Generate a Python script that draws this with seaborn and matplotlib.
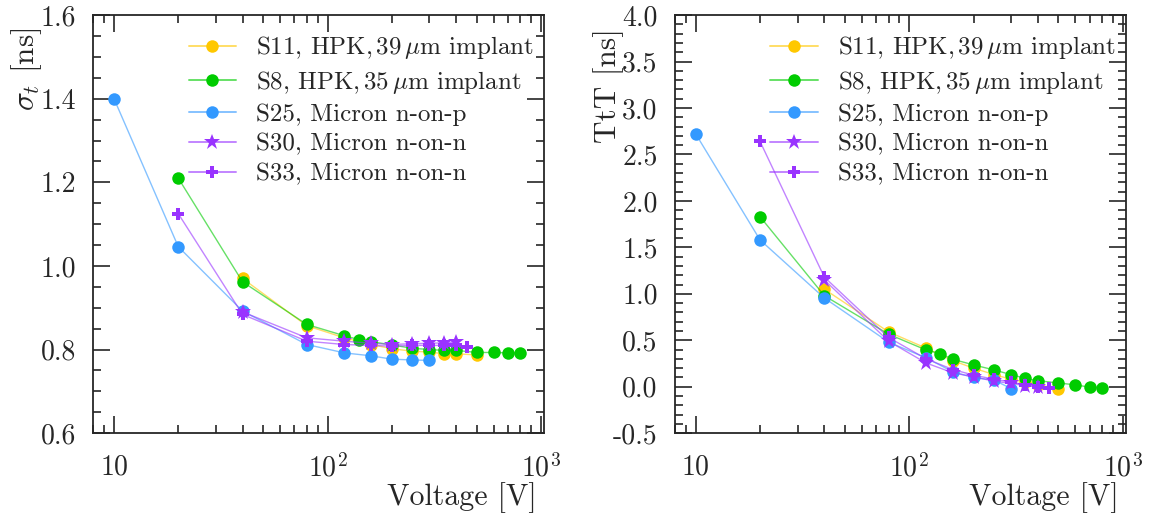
import numpy as np
import pandas as pd
import matplotlib
matplotlib.use("Agg")
import matplotlib.pyplot as plt
import matplotlib.ticker as mticker
import seaborn as sns

# sample names, colours and markers
samples = [r"S11, HPK,$\,39\,\mu$m implant", r"S8, HPK,$\,35\,\mu$m implant", "S25, Micron n-on-p",
           "S30, Micron n-on-n", "S33, Micron n-on-n"]
colors = ["#FFC800", "#00CC00", "#3399FF", "#9933FF", "#9933FF"]
markers = ["o", "o", "o", "*", "P"]

# bias voltages [V]
v_s11 = [40, 80, 120, 160, 200, 250, 300, 350, 400, 500]
v_s8 = [20, 40, 80, 120, 140, 160, 200, 250, 300, 350, 400, 500, 600, 700, 800]
v_s25 = [10, 20, 40, 80, 120, 160, 200, 250, 300]
v_s30 = [40, 80, 120, 160, 200, 250, 300, 350, 400]
v_s33 = [20, 40, 80, 120, 160, 200, 250, 300, 350, 400, 450]

# time resolution sigma_t [ns]
sig_s11 = [0.970, 0.857, 0.828, 0.812, 0.802, 0.796, 0.794, 0.790, 0.790, 0.787]
sig_s8 = [1.210, 0.962, 0.860, 0.833, 0.824, 0.819, 0.811, 0.803, 0.800, 0.798, 0.798, 0.793, 0.793, 0.792, 0.792]
sig_s25 = [1.400, 1.046, 0.892, 0.812, 0.792, 0.785, 0.777, 0.775, 0.774]
sig_s30 = [0.890, 0.828, 0.820, 0.815, 0.812, 0.814, 0.815, 0.816, 0.818]
sig_s33 = [1.125, 0.884, 0.820, 0.812, 0.810, 0.808, 0.810, 0.810, 0.810, 0.810, 0.807]

# time to threshold TtT [ns]
ttt_s11 = [1.05, 0.59, 0.415, 0.28, 0.20, 0.13, 0.08, 0.05, 0.02, -0.02]
ttt_s8 = [1.83, 0.98, 0.565, 0.395, 0.355, 0.295, 0.235, 0.18, 0.13, 0.09, 0.065, 0.04, 0.02, -0.005, -0.01]
ttt_s25 = [2.72, 1.58, 0.955, 0.48, 0.31, 0.16, 0.10, 0.07, -0.02]
ttt_s30 = [1.15, 0.49, 0.255, 0.15, 0.105, 0.06, 0.035, 0.01, 0.0]
ttt_s33 = [2.64, 1.18, 0.53, 0.30, 0.185, 0.125, 0.08, 0.05, 0.02, 0.0, -0.01]

voltages = [v_s11, v_s8, v_s25, v_s30, v_s33]
sigmas = [sig_s11, sig_s8, sig_s25, sig_s30, sig_s33]
ttts = [ttt_s11, ttt_s8, ttt_s25, ttt_s30, ttt_s33]

sns.set_style("ticks")
plt.rcParams['font.family'] = ['cmr10', 'DejaVu Serif']
plt.rcParams['mathtext.fontset'] = 'cm'
plt.rcParams['axes.unicode_minus'] = False
plt.rcParams['axes.formatter.use_mathtext'] = True

fig = plt.figure(figsize=(11.52, 5.2), dpi=100)
ax1 = fig.add_axes([0.081, 0.167, 0.391, 0.804])
ax2 = fig.add_axes([0.586, 0.167, 0.391, 0.804])


def xfmt(val, pos):
    if abs(val - 10) < 1e-6:
        return "10"
    return r"$10^{%d}$" % int(round(np.log10(val)))


def draw_panel(ax, yvals, ylabel, ylim, major, minor):
    for name, v, y, c, m in zip(samples, voltages, yvals, colors, markers):
        df = pd.DataFrame({'voltage': v, 'value': y})
        ms = 12 if m == "*" else 9
        sns.lineplot(data=df, x='voltage', y='value', ax=ax, color=c, marker=m,
                     markersize=ms, markeredgewidth=0, linewidth=1.0,
                     estimator=None, sort=False, label=name)
        line = ax.lines[-1]
        r, g, b, _ = matplotlib.colors.to_rgba(c)
        line.set_color((r, g, b, 0.6))
        line.set_markerfacecolor(c)
        line.set_markeredgecolor(c)

    ax.set_xscale('log')
    ax.set_xlim(8, 1030)
    ax.set_ylim(*ylim)
    ax.xaxis.set_major_locator(mticker.FixedLocator([10, 100, 1000]))
    ax.xaxis.set_major_formatter(mticker.FuncFormatter(xfmt))
    ax.xaxis.set_minor_locator(mticker.LogLocator(base=10, subs=np.arange(2, 10)))
    ax.xaxis.set_minor_formatter(mticker.NullFormatter())
    ax.yaxis.set_major_locator(mticker.MultipleLocator(major))
    ax.yaxis.set_minor_locator(mticker.MultipleLocator(minor))
    ax.yaxis.set_major_formatter(mticker.FormatStrFormatter('%.1f'))

    ax.tick_params(which='both', direction='in', top=True, right=True, labelsize=20, width=1.2)
    ax.tick_params(axis='x', which='major', length=12, pad=15)
    ax.tick_params(axis='y', which='major', length=12, pad=12.5)
    ax.tick_params(which='minor', length=6)
    for s in ax.spines.values():
        s.set_linewidth(1.3)

    ax.set_xlabel('Voltage [V]', fontsize=21.5, loc='right')
    ax.xaxis.set_label_coords(0.985, -0.118)
    # y label: top of the rotated text a little below the top spine
    ax.set_ylabel(ylabel, fontsize=22.5, rotation=90, rotation_mode='default',
                  ha='center', va='top')
    ax.yaxis.set_label_coords(-0.148, 0.969)

    leg = ax.legend(loc='upper right', frameon=False, fontsize=18, handlelength=1.9,
                    handletextpad=0.8, labelspacing=0.3, borderaxespad=0.2,
                    bbox_to_anchor=(1.012, 0.99))
    for h in leg.get_lines():
        h.set_linewidth(1.4)


draw_panel(ax1, sigmas, r'$\sigma_t$ [ns]', (0.6, 1.6), 0.2, 0.05)
draw_panel(ax2, ttts, 'TtT [ns]', (-0.5, 4.0), 0.5, 0.1)

plt.savefig('out.png', dpi=100)
